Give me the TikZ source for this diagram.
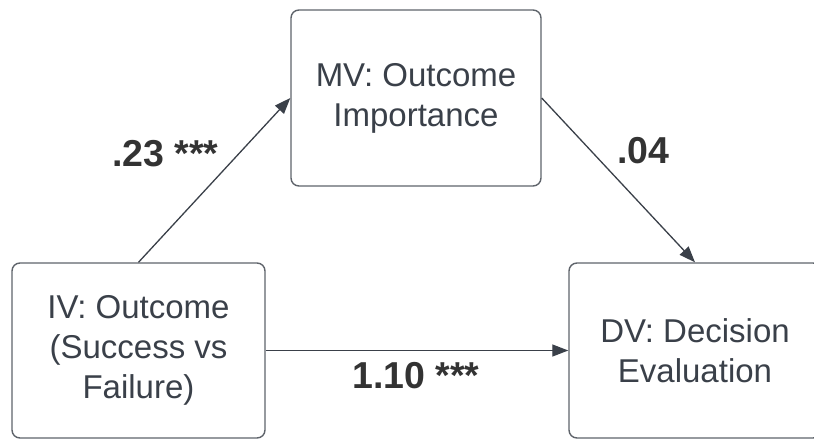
\documentclass[tikz,border=0pt]{standalone}
\usepackage{fontspec}
\setmainfont{Liberation Sans}
\usetikzlibrary{arrows.meta}
\definecolor{boxline}{HTML}{5F646B}
\definecolor{boxtext}{HTML}{3A4049}
\definecolor{arrowcol}{HTML}{3A4049}
\definecolor{labeltext}{HTML}{333333}
\tikzset{
  varbox/.style={draw=boxline, line width=1.4pt, rounded corners=8pt, fill=white,
    minimum width=#1, align=center, text=boxtext, inner sep=0pt,
    font=\fontsize{33}{40}\selectfont},
  pathlabel/.style={text=labeltext, inner sep=0pt, anchor=base west,
    font=\bfseries\fontsize{37.5}{44}\selectfont},
  link/.style={draw=arrowcol, line width=1.3pt, -{Triangle[length=16pt,width=12pt]}}
}
\begin{document}
\begin{tikzpicture}[x=1pt,y=-1pt]
\useasboundingbox (0,0) rectangle (814,439);
\clip (0,0) rectangle (814,439);
\node[varbox=253pt, minimum height=175pt] (iv) at (138.5,350.5) {IV: Outcome\\(Success vs\\Failure)};
\node[varbox=250pt, minimum height=176pt] (mv) at (416,98) {MV: Outcome\\Importance};
\node[varbox=252pt, minimum height=175pt] (dv) at (695,350.5) {DV: Decision\\Evaluation};
\draw[link] (iv.north) -- (mv.west);
\draw[link] (mv.east) -- (dv.north);
\draw[link] (iv.east) -- (dv.west);
\node[pathlabel] (l1) at (112,166) {.23 ***};
\node[pathlabel] (l2) at (617,163) {.04};
\node[pathlabel] (l3) at (352,388) {1.10 ***};
\end{tikzpicture}
\end{document}
